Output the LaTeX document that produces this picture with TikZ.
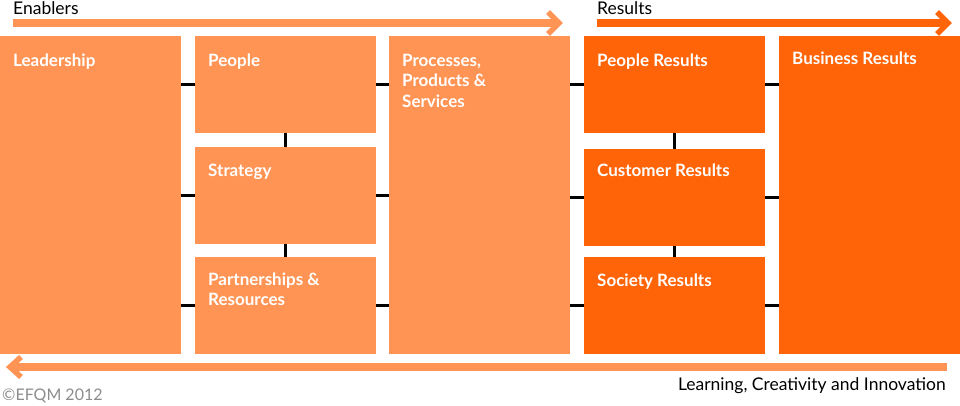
\documentclass[tikz,border=0pt]{standalone}
\usepackage{fontspec}
\setmainfont{Lato}
\usetikzlibrary{calc}
\definecolor{lightor}{RGB}{255,148,84}
\definecolor{darkor}{RGB}{255,100,8}
\definecolor{copyg}{RGB}{140,140,140}
\tikzset{
  box/.style={rectangle, draw=none, inner sep=0pt, anchor=north west, minimum width=181pt},
  lbox/.style={box, fill=lightor},
  dbox/.style={box, fill=darkor},
  lbl/.style={anchor=north west, inner sep=0pt, text=white, align=left,
    font=\fontsize{17}{20.5}\selectfont\bfseries},
  hdr/.style={anchor=base west, inner sep=0pt, font=\fontsize{17.5}{20}\selectfont},
  link/.style={draw=black, line width=2.6pt},
  bar/.style={line width=8pt},
  chev/.style={line width=5.5pt, line join=miter},
}
\begin{document}
\begin{tikzpicture}[x=1pt,y=-1pt]
\useasboundingbox (0,0) rectangle (960,406);
% boxes
\node[lbox, minimum height=318pt] (lead) at (0,36) {};
\node[lbox, minimum height=97pt] (peop) at (195,36) {};
\node[lbox, minimum height=97pt] (strat) at (195,147) {};
\node[lbox, minimum height=97pt] (part) at (195,257) {};
\node[lbox, minimum height=318pt] (proc) at (389,36) {};
\node[dbox, minimum height=97pt] (pres) at (584,36) {};
\node[dbox, minimum height=97pt] (cres) at (584,149) {};
\node[dbox, minimum height=97pt] (sres) at (584,257) {};
\node[dbox, minimum height=318pt] (bres) at (779,36) {};
% labels
\node[lbl] (tlead) at (13,54) {Leadership};
\node[lbl] (tpeop) at (208,54) {People};
\node[lbl] (tstrat) at (208,164) {Strategy};
\node[lbl] (tpart) at (208,272.5) {Partnerships \&\\Resources};
\node[lbl] (tproc) at (402,54) {Processes,\\Products \&\\Services};
\node[lbl] (tpres) at (597,54) {People Results};
\node[lbl] (tcres) at (597,164) {Customer Results};
\node[lbl] (tsres) at (597,273.5) {Society Results};
\node[lbl] (tbres) at (792,52) {Business Results};
% connectors
\foreach \b in {peop,strat,part} {
  \draw[link] (\b.west) -- (\b.west -| lead.east);
  \draw[link] (\b.east) -- (\b.east -| proc.west);
}
\foreach \b in {pres,cres,sres} {
  \draw[link] (\b.west) -- (\b.west -| proc.east);
  \draw[link] (\b.east) -- (\b.east -| bres.west);
}
\draw[link] (peop.south) -- (strat.north);
\draw[link] (strat.south) -- (part.north);
\draw[link] (pres.south) -- (cres.north);
\draw[link] (cres.south) -- (sres.north);
% top arrows
\node[hdr] (enab) at (13,15) {Enablers};
\node[hdr] (resu) at (597,15) {Results};
\coordinate (enS) at (12.7,23);
\coordinate (enE) at (563,23);
\coordinate (reS) at (596.7,23);
\coordinate (reE) at (952,23);
\draw[bar, lightor] (enS) -- ($(enE)+(-5,0)$);
\draw[chev, lightor] ($(enE)+(-15,-11)$) -- ($(enE)+(-4,0)$) -- ($(enE)+(-15,11)$);
\draw[bar, darkor] (reS) -- ($(reE)+(-5,0)$);
\draw[chev, darkor] ($(reE)+(-15,-11)$) -- ($(reE)+(-4,0)$) -- ($(reE)+(-15,11)$);
% bottom arrow
\coordinate (lrS) at (946.5,367);
\coordinate (lrE) at (6,367);
\draw[bar, lightor] (lrS) -- ($(lrE)+(5,0)$);
\draw[chev, lightor] ($(lrE)+(15,-10)$) -- ($(lrE)+(4,0)$) -- ($(lrE)+(15,10)$);
\node[anchor=base east, inner sep=0pt, font=\fontsize{17.5}{20}\selectfont] (lci) at (946,390) {Learning, Creativity and Innovation};
\node[anchor=base west, inner sep=0pt, text=copyg, font=\fontsize{16}{18}\selectfont] (copy) at (2,400) {©EFQM 2012};
\end{tikzpicture}
\end{document}
